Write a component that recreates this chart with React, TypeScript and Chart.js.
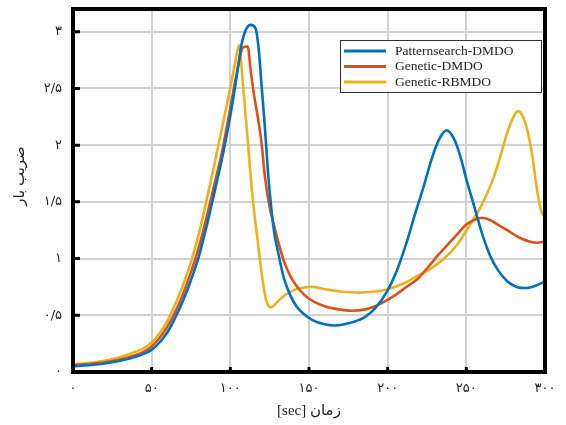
import { useEffect, useRef } from "react";
import { Chart, registerables } from "chart.js";

Chart.register(...registerables);

// Axis ticks (Persian numerals)
const timeTicks = [0, 50, 100, 150, 200, 250, 300];
const timeTickLabels = ["۰", "۵۰", "۱۰۰", "۱۵۰", "۲۰۰", "۲۵۰", "۳۰۰"];
const loadTicks = [0, 0.5, 1, 1.5, 2, 2.5, 3];
const loadTickLabels = ["۰", "۰/۵", "۱", "۱/۵", "۲", "۲/۵", "۳"];

// Series names
const seriesNames = ["Patternsearch-DMDO", "Genetic-DMDO", "Genetic-RBMDO"];

// Patternsearch-DMDO
const patternTime = [
  0, 10, 20, 30, 40, 45, 50, 55, 60, 65, 70, 75, 80, 85, 90, 95, 100, 104, 107, 110,
  113, 116, 118, 120, 122, 124, 126, 128, 130, 134, 138, 142, 146, 152, 160, 166,
  175, 185, 192, 200, 206, 212, 218, 223, 228, 233, 237.5, 242, 246, 250, 255, 260,
  265, 270, 276, 282, 288, 294, 300,
];
const patternLoad = [
  0.05, 0.06, 0.075, 0.1, 0.135, 0.16, 0.195, 0.26, 0.35, 0.48, 0.63, 0.81, 1.02,
  1.29, 1.59, 1.9, 2.26, 2.6, 2.88, 3.02, 3.06, 3.03, 2.85, 2.5, 2.15, 1.75, 1.45,
  1.22, 1.08, 0.83, 0.68, 0.58, 0.52, 0.46, 0.42, 0.41, 0.43, 0.48, 0.56, 0.72, 0.9,
  1.14, 1.42, 1.64, 1.88, 2.06, 2.13, 2.06, 1.91, 1.7, 1.46, 1.22, 1.03, 0.9, 0.8,
  0.75, 0.74, 0.76, 0.8,
];

// Genetic-DMDO
const geneticTime = [
  0, 10, 20, 30, 40, 45, 50, 55, 60, 65, 70, 75, 80, 85, 90, 95, 100, 104, 108, 111,
  113, 115, 118, 120, 122, 125, 128, 131, 134, 138, 142, 147, 153, 160, 170, 177,
  185, 192, 198, 205, 212, 219, 226, 232, 238, 244, 250, 255, 260, 265, 270, 276,
  283, 290, 295, 300,
];
const geneticLoad = [
  0.06, 0.07, 0.085, 0.11, 0.15, 0.18, 0.225, 0.3, 0.4, 0.53, 0.69, 0.88, 1.1, 1.37,
  1.66, 1.96, 2.33, 2.63, 2.86, 2.87, 2.65, 2.45, 2.2, 2.0, 1.72, 1.45, 1.28, 1.12,
  0.98, 0.85, 0.76, 0.68, 0.62, 0.58, 0.55, 0.54, 0.55, 0.58, 0.62, 0.68, 0.75,
  0.82, 0.93, 1.03, 1.12, 1.21, 1.3, 1.34, 1.36, 1.34, 1.3, 1.25, 1.19, 1.15, 1.14,
  1.15,
];

// Genetic-RBMDO
const rbmdoTime = [
  0, 10, 20, 30, 40, 45, 50, 55, 60, 65, 70, 75, 80, 85, 90, 95, 100, 103, 105.5, 108,
  111, 114, 117, 120, 123, 126, 130, 135, 140, 145, 152, 160, 170, 182, 192, 200,
  210, 218, 226, 235, 244, 252, 260, 267, 272, 276, 280, 283, 286, 289, 292, 295,
  298, 300,
];
const rbmdoLoad = [
  0.07, 0.08, 0.1, 0.13, 0.18, 0.21, 0.26, 0.34, 0.45, 0.6, 0.77, 0.97, 1.22, 1.52,
  1.84, 2.17, 2.51, 2.72, 2.88, 2.54, 2.05, 1.56, 1.2, 0.86, 0.62, 0.57, 0.62, 0.68,
  0.72, 0.74, 0.75, 0.73, 0.71, 0.7, 0.71, 0.73, 0.78, 0.84, 0.9, 0.99, 1.12, 1.29,
  1.48, 1.7, 1.92, 2.11, 2.25, 2.3, 2.25, 2.12, 1.9, 1.6, 1.4, 1.37,
];

const seriesColors = ["#0072BD", "#D95319", "#EDB120"];
const arabicFont = "'Liberation Serif', 'DejaVu Sans', serif";

const toPoints = (xs: number[], ys: number[]) => xs.map((x, i) => ({ x, y: ys[i] }));

// Thick frame, inward tick marks, axis titles and an inset legend
const decorations = {
  id: "decorations",
  afterDatasetsDraw(chart: any) {
    const { ctx, chartArea: a, scales } = chart;
    ctx.save();
    ctx.strokeStyle = "#000";
    ctx.lineWidth = 4;
    ctx.strokeRect(a.left, a.top, a.right - a.left, a.bottom - a.top);
    ctx.lineWidth = 3;
    ctx.beginPath();
    loadTicks.forEach((v) => {
      const y = scales.y.getPixelForValue(v);
      ctx.moveTo(a.left, y);
      ctx.lineTo(a.left + 7, y);
    });
    timeTicks.forEach((v) => {
      const x = scales.x.getPixelForValue(v);
      ctx.moveTo(x, a.bottom);
      ctx.lineTo(x, a.bottom - 5);
    });
    ctx.stroke();

    // axis titles
    ctx.fillStyle = "#222";
    ctx.font = `15px ${arabicFont}`;
    ctx.textAlign = "center";
    ctx.textBaseline = "middle";
    ctx.fillText("[sec] زمان", (a.left + a.right) / 2, 411);
    ctx.translate(20, 176);
    ctx.rotate(-Math.PI / 2);
    ctx.fillText("ضریب بار", 0, 0);
    ctx.restore();

    // legend
    ctx.save();
    const bx = a.right - 205;
    const by = a.top + 31;
    const bw = 201;
    const bh = 52;
    ctx.fillStyle = "#fff";
    ctx.fillRect(bx, by, bw, bh);
    ctx.strokeStyle = "#333";
    ctx.lineWidth = 1;
    ctx.strokeRect(bx + 0.5, by + 0.5, bw, bh);
    ctx.font = "13.5px 'Liberation Serif', serif";
    ctx.textAlign = "left";
    ctx.textBaseline = "middle";
    chart.data.datasets.forEach((ds: any, i: number) => {
      const y = by + 11 + i * 15.5;
      ctx.strokeStyle = ds.borderColor;
      ctx.lineWidth = 3;
      ctx.beginPath();
      ctx.moveTo(bx + 4, y);
      ctx.lineTo(bx + 46, y);
      ctx.stroke();
      ctx.fillStyle = "#222";
      ctx.fillText(ds.label, bx + 55, y);
    });
    ctx.restore();
  },
};

export default function App() {
  const canvasRef = useRef<HTMLCanvasElement | null>(null);

  useEffect(() => {
    if (!canvasRef.current) return;
    const chart = new Chart(canvasRef.current, {
      type: "line",
      data: {
        datasets: [
          { label: seriesNames[0], data: toPoints(patternTime, patternLoad) },
          { label: seriesNames[1], data: toPoints(geneticTime, geneticLoad) },
          { label: seriesNames[2], data: toPoints(rbmdoTime, rbmdoLoad) },
        ].map((d, i) => ({
          ...d,
          borderColor: seriesColors[i],
          backgroundColor: seriesColors[i],
          borderWidth: 2.6,
          pointRadius: 0,
          cubicInterpolationMode: "monotone" as const,
          fill: false,
        })),
      },
      options: {
        animation: false,
        responsive: false,
        layout: { padding: { top: 9, right: 21, left: 0, bottom: 0 } },
        plugins: { legend: { display: false }, tooltip: { enabled: false } },
        scales: {
          x: {
            type: "linear",
            min: 0,
            max: 300,
            afterBuildTicks: (s: any) => {
              s.ticks = timeTicks.map((value) => ({ value }));
            },
            afterFit: (s: any) => {
              s.height = 53;
              s.paddingLeft = 0;
              s.paddingRight = 0;
            },
            border: { display: false },
            grid: { color: "#d2d2d2", lineWidth: 2, drawTicks: false },
            ticks: {
              padding: 9,
              autoSkip: false,
              maxRotation: 0,
              color: "#222",
              font: { family: "'DejaVu Sans', sans-serif", size: 13 },
              callback: (v: any) => timeTickLabels[timeTicks.indexOf(Number(v))] ?? "",
            },
          },
          y: {
            type: "linear",
            min: 0,
            max: 3.2,
            afterBuildTicks: (s: any) => {
              s.ticks = loadTicks.map((value) => ({ value }));
            },
            afterFit: (s: any) => {
              s.width = 73;
              s.paddingTop = 0;
              s.paddingBottom = 0;
            },
            border: { display: false },
            grid: { color: "#d2d2d2", lineWidth: 2, drawTicks: false },
            ticks: {
              padding: 11,
              autoSkip: false,
              color: "#222",
              font: { family: "'DejaVu Sans', sans-serif", size: 13 },
              callback: (v: any) => loadTickLabels[loadTicks.indexOf(Number(v))] ?? "",
            },
          },
        },
      },
      plugins: [decorations],
    });
    return () => chart.destroy();
  }, []);

  return (
    <canvas
      ref={canvasRef}
      width={566}
      height={425}
      style={{ position: "fixed", left: 0, top: 0, display: "block", background: "#fff" }}
    />
  );
}
